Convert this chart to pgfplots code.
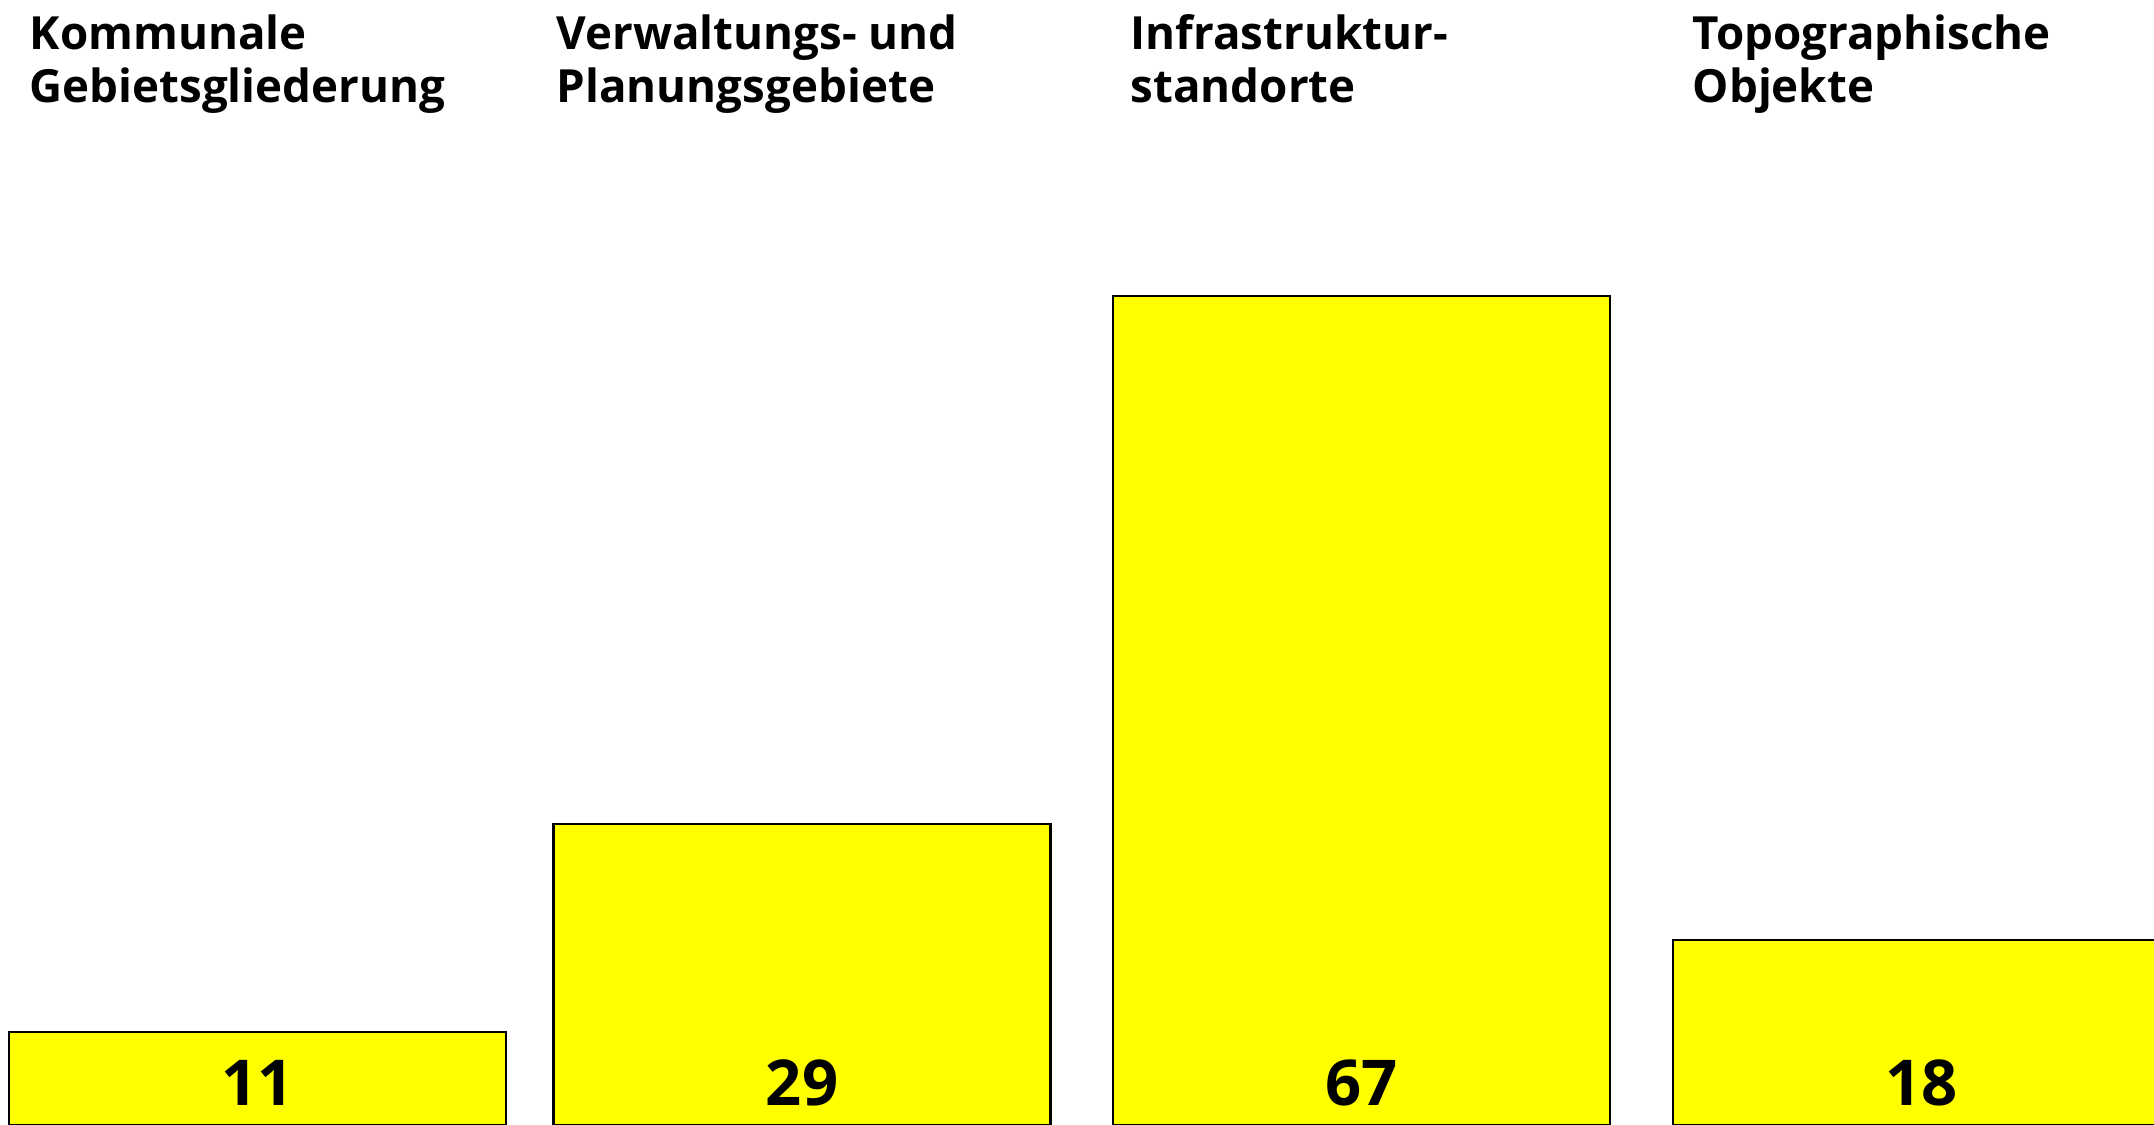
\documentclass[border=0pt]{standalone}
\usepackage{pgfplots}
\pgfplotsset{compat=1.18}
\usepackage{fontspec}
\setmainfont{Open Sans}
\definecolor{barylw}{RGB}{255,255,0}
\begin{document}
\begin{tikzpicture}
\begin{axis}[
  width=21.54cm, height=11.25cm, scale only axis,
  hide axis,
  xmin=0, xmax=2154,
  ymin=3.926, ymax=89.52,
  clip=true,
]
% bar heights as drawn (labels give the printed values)
\addplot[ybar, bar width=497, fill=barylw, draw=black, line width=0.6pt]
  coordinates {(257.5,11) (802,26.83) (1361.5,67) (1921.5,18)};
\addplot[draw=none, mark=none, nodes near coords, point meta=explicit symbolic,
  every node near coord/.append style={anchor=base, text=black, font=\bfseries\fontsize{18}{20}\selectfont}]
  coordinates {(257.5,5.37) [11] (802,5.37) [29] (1361.5,5.37) [67] (1921.5,5.37) [18]};
\tikzset{ttl/.style={anchor=base west, inner sep=0pt, font=\bfseries\fontsize{13.0}{15}\selectfont}}
\node[ttl] at (axis cs:29,85.72) {Kommunale};
\node[ttl] at (axis cs:29,81.70) {Gebietsgliederung};
\node[ttl] at (axis cs:556,85.72) {Verwaltungs- und};
\node[ttl] at (axis cs:556,81.70) {Planungsgebiete};
\node[ttl] at (axis cs:1130,85.72) {Infrastruktur-};
\node[ttl] at (axis cs:1130,81.70) {standorte};
\node[ttl] at (axis cs:1692,85.72) {Topographische};
\node[ttl] at (axis cs:1692,81.70) {Objekte};
\end{axis}
\pgfresetboundingbox
\path[use as bounding box] (current axis.south west) rectangle (current axis.north east);
\end{tikzpicture}
\end{document}
